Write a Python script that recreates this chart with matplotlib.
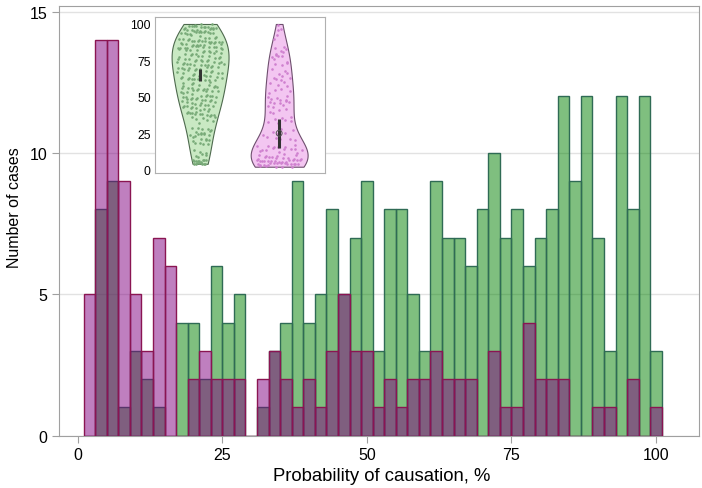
import numpy as np
import matplotlib.pyplot as plt

plt.rcParams['font.family'] = ['Liberation Sans', 'DejaVu Sans']

# histogram bins (width 2, centred on even values)
bin_centers = list(range(2, 101, 2))
green_counts = [0, 8, 9, 1, 3, 2, 1, 0, 4, 4, 2, 6, 4, 5, 0, 1, 3, 4, 9, 4,
                5, 8, 5, 7, 9, 3, 8, 8, 5, 3, 9, 7, 7, 6, 8, 10, 7, 8, 6, 7,
                8, 12, 9, 12, 7, 3, 12, 8, 12, 3]
purple_counts = [5, 14, 14, 9, 5, 3, 7, 6, 0, 2, 3, 2, 2, 2, 0, 2, 3, 2, 1, 2,
                 1, 3, 5, 3, 3, 1, 2, 1, 2, 2, 3, 2, 2, 2, 0, 3, 1, 1, 4, 2,
                 2, 2, 0, 0, 1, 1, 0, 2, 0, 1]

# inset markers
marker_low = [61, 15]
marker_high = [69, 35]
marker_mid = [65, 25]

x_ticks = [0, 25, 50, 75, 100]
y_ticks = [0, 5, 10, 15]
inset_ticks = [0, 25, 50, 75, 100]

fig = plt.figure(figsize=(7.02, 4.89), dpi=100)
ax = fig.add_axes([0.0845, 0.107, 0.9117, 0.879])

ax.bar(bin_centers, green_counts, width=2, color=(0, 0.5, 0, 0.5),
       edgecolor='#2f6b55', linewidth=1.0, zorder=2)
ax.bar(bin_centers, purple_counts, width=2, color=(0.5, 0, 0.5, 0.5),
       edgecolor='#8a1552', linewidth=1.0, zorder=3)

ax.set_xlim(-3.2, 107.5)
ax.set_ylim(0, 15.2)
ax.set_xticks(x_ticks)
ax.set_yticks(y_ticks)
ax.yaxis.grid(True, color='#e2e2e2', linewidth=1.0, zorder=0)
ax.set_axisbelow(True)
for s in ax.spines.values():
    s.set_color('#a0a0a0')
ax.tick_params(colors='#a0a0a0', labelcolor='black', labelsize=11.5, length=5)
ax.set_xlabel('Probability of causation, %', fontsize=13.3)
ax.xaxis.set_label_coords(0.504, -0.072)
ax.set_ylabel('Number of cases', fontsize=11.5)
ax.yaxis.set_label_coords(-0.058, 0.532)

# inset violins
ins = fig.add_axes([0.2208, 0.6442, 0.2422, 0.319])
green_vals = np.repeat(bin_centers, green_counts)
purple_vals = np.repeat(bin_centers, purple_counts)
body_fill = ['#c9e9c3', '#f3c6f1']
body_edge = ['#4e6a4e', '#6e4f6e']
dot_color = ['#78aa78', '#cf80cf']
bws = [0.5, 0.42]
for i, vals in enumerate([green_vals, purple_vals]):
    parts = ins.violinplot([vals], positions=[i], widths=0.72,
                           showextrema=False, bw_method=bws[i])
    body = parts['bodies'][0]
    body.set_facecolor(body_fill[i])
    body.set_edgecolor(body_edge[i])
    body.set_linewidth(0.8)
    body.set_alpha(1)
    verts = body.get_paths()[0].vertices
    right = verts[verts[:, 0] > i]
    order = np.argsort(right[:, 1])
    ry, rw = right[order, 1], right[order, 0] - i
    counts = green_counts if i == 0 else purple_counts
    xs, ys = [], []
    for c, k in zip(bin_centers, counts):
        for j in range(k):
            fx = ((j + 0.5) * 0.618 + c * 0.13) % 1 * 2 - 1
            fy = ((j + 0.5) * 0.382 + c * 0.07) % 1 - 0.5
            y = min(max(c + fy * 1.8, ry.min()), ry.max())
            xs.append(i + 0.85 * np.interp(y, ry, rw) * fx)
            ys.append(y)
    ins.scatter(xs, ys, s=3.5, color=dot_color[i], linewidths=0, zorder=3)

ins.vlines([0, 1], marker_low, marker_high, color='#333333', linewidth=2.2, zorder=4)
ins.scatter([1], [marker_mid[1]], s=18, facecolor='none', edgecolor='#555555',
            linewidth=0.7, zorder=5)

ins.set_xlim(-0.57, 1.58)
ins.set_ylim(-2.3, 104.8)
ins.set_xticks([])
ins.set_yticks(inset_ticks)
ins.tick_params(length=0, labelsize=8.8, pad=3)
for s in ins.spines.values():
    s.set_color('#b0b0b0')

fig.savefig('out.png', dpi=100)
